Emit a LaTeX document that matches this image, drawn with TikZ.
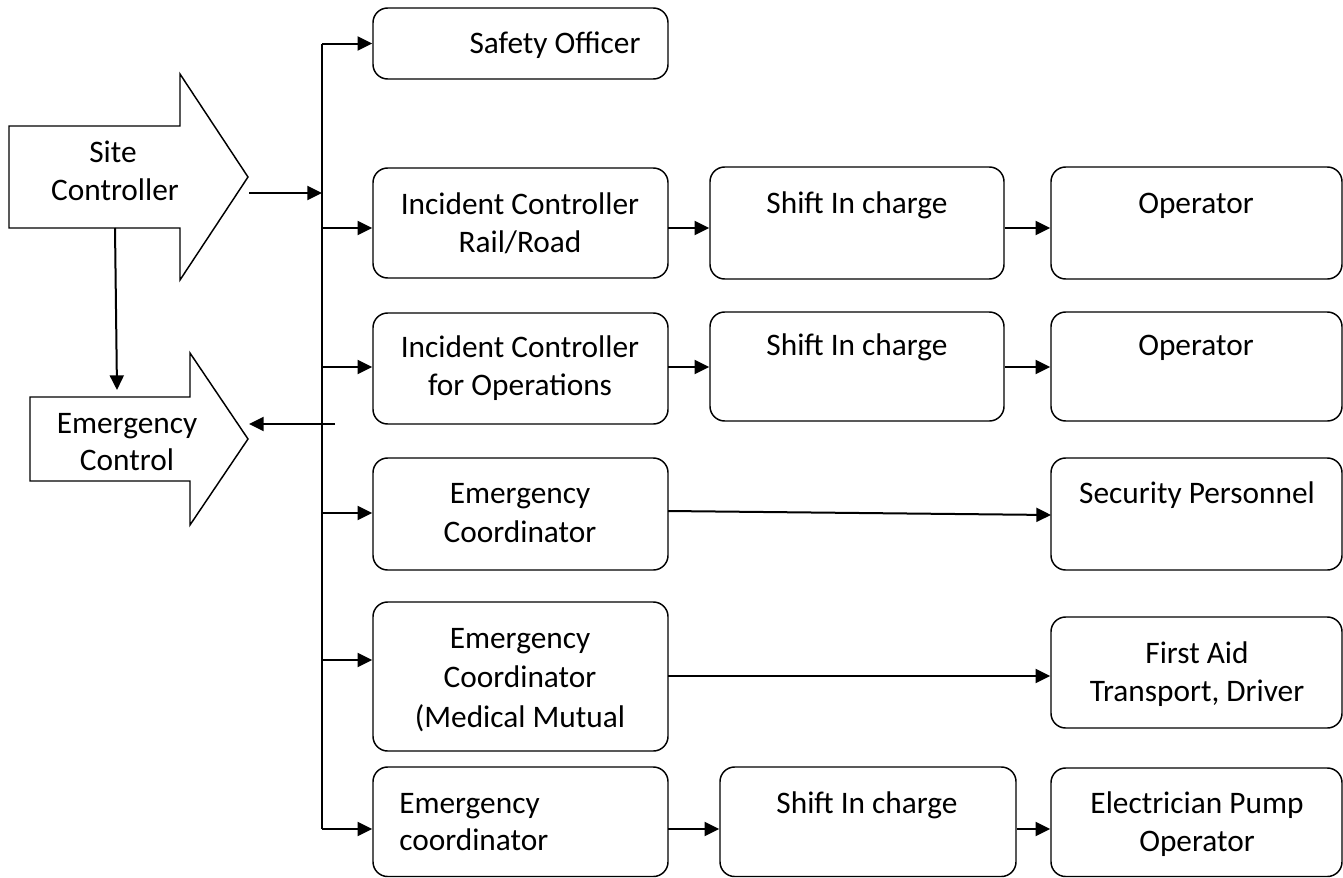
\documentclass[tikz,border=0pt]{standalone}
\usepackage{fontspec}
\setmainfont{Carlito}
\usetikzlibrary{arrows.meta,fit}
\begin{document}
\begin{tikzpicture}[x=0.75pt,y=-0.75pt,
  box/.style={draw,line width=1.1pt,rounded corners=11pt,inner sep=0pt},
  shape outline/.style={draw,line width=1.1pt,line join=miter},
  lbl/.style={font=\fontsize{23.5}{28.5}\selectfont,inner sep=0pt,anchor=base},
  lbll/.style={lbl,anchor=base west},
  conn/.style={line width=1.5pt,-{Triangle[length=11pt,width=10.5pt]}},
  trunk/.style={line width=1.5pt}]
\useasboundingbox (0,0) rectangle (1343,878);

% block arrows on the left
\draw[shape outline] (9,126) -- (180,126) -- (180,74) -- (248,177) -- (180,280) -- (180,228) -- (9,228) -- cycle;
\coordinate (scBottom) at (115,228);
\coordinate (scOut) at (249,193);
\node[lbl] (scA) at (113,162) {Site};
\node[lbl] (scB) at (115,200) {Controller};

\draw[shape outline] (30,397) -- (190,397) -- (190,353) -- (248,439) -- (190,525) -- (190,481) -- (30,481) -- cycle;
\coordinate (ecTop) at (117,390);
\coordinate (ecIn) at (249,424);
\node[lbl] (ecA) at (127,433) {Emergency};
\node[lbl] (ecB) at (127,470) {Control};

% boxes, first column
\node[box,fit={(373,8) (668,79)}] (so) {};
\node[box,fit={(373,168) (668,278)}] (icr) {};
\node[box,fit={(373,313) (668,424)}] (ico) {};
\node[box,fit={(373,458) (668,570)}] (ecd) {};
\node[box,fit={(373,602) (668,751)}] (ecm) {};
\node[box,fit={(373,767) (668,876.5)}] (ecc) {};

% second column
\node[box,fit={(710,167) (1004,279)}] (sh1) {};
\node[box,fit={(710,312) (1004,421)}] (sh2) {};
\node[box,fit={(720,767) (1016,876.5)}] (sh3) {};

% third column
\node[box,fit={(1051,167) (1342,279)}] (op1) {};
\node[box,fit={(1051,312) (1342,421)}] (op2) {};
\node[box,fit={(1051,458) (1342,570)}] (sec) {};
\node[box,fit={(1051,617) (1342,728)}] (fa) {};
\node[box,fit={(1051,768) (1342,876.5)}] (el) {};

% box texts
\node[lbl] (soT) at (555,53) {Safety Officer};
\node[lbl] (icrA) at (520,214) {Incident Controller};
\node[lbl] (icrB) at (520,252) {Rail/Road};
\node[lbl] (icoA) at (520,357) {Incident Controller};
\node[lbl] (icoB) at (520,395) {for Operations};
\node[lbl] (ecdA) at (520,503) {Emergency};
\node[lbl] (ecdB) at (520,542) {Coordinator};
\node[lbl] (ecmA) at (520,648) {Emergency};
\node[lbl] (ecmB) at (520,687) {Coordinator};
\node[lbl] (ecmC) at (520,727) {(Medical Mutual};
\node[lbll] (eccA) at (399,813) {Emergency};
\node[lbll] (eccB) at (399,850) {coordinator};
\node[lbl] (sh1T) at (857,213) {Shift In charge};
\node[lbl] (sh2T) at (857,355) {Shift In charge};
\node[lbl] (sh3T) at (867,813) {Shift In charge};
\node[lbl] (op1T) at (1196,213) {Operator};
\node[lbl] (op2T) at (1196,355) {Operator};
\node[lbl] (secT) at (1197,503) {Security Personnel};
\node[lbl] (faA) at (1197,663) {First Aid};
\node[lbl] (faB) at (1197,701) {Transport, Driver};
\node[lbl] (elA) at (1197,813) {Electrician Pump};
\node[lbl] (elB) at (1197,851) {Operator};

% vertical distribution line
\coordinate (jTop) at (322,43.5);
\coordinate (jSc) at (322,193);
\coordinate (j2) at (322,228);
\coordinate (j3) at (322,367);
\coordinate (jEc) at (335,424);
\coordinate (j4) at (322,513);
\coordinate (j5) at (322,660);
\coordinate (j6) at (322,829);
\draw[trunk] (jTop) -- (j6);

% connectors
\draw[conn] (jTop) -- (so.west);
\draw[conn] (scOut) -- (jSc);
\draw[conn] (scBottom) -- (ecTop);
\draw[conn] (jEc) -- (ecIn);
\draw[conn] (j2) -- (j2 -| icr.west);
\draw[conn] (j3) -- (j3 -| ico.west);
\draw[conn] (j4) -- (j4 -| ecd.west);
\draw[conn] (j5) -- (j5 -| ecm.west);
\draw[conn] (j6) -- (j6 -| ecc.west);

\coordinate (r2) at (668,228);
\coordinate (r3) at (668,367);
\coordinate (r6) at (668,829);
\draw[conn] (r2) -- (r2 -| sh1.west);
\draw[conn] (r3) -- (r3 -| sh2.west);
\draw[conn] (r6) -- (r6 -| sh3.west);
\draw[conn] (r2 -| sh1.east) -- (r2 -| op1.west);
\draw[conn] (r3 -| sh2.east) -- (r3 -| op2.west);
\draw[conn] (r6 -| sh3.east) -- (r6 -| el.west);

\coordinate (r4) at (668,511);
\coordinate (s4) at (1051,515);
\draw[conn] (r4) -- (s4);
\coordinate (r5) at (668,676);
\draw[conn] (r5) -- (r5 -| fa.west);
\end{tikzpicture}
\end{document}
